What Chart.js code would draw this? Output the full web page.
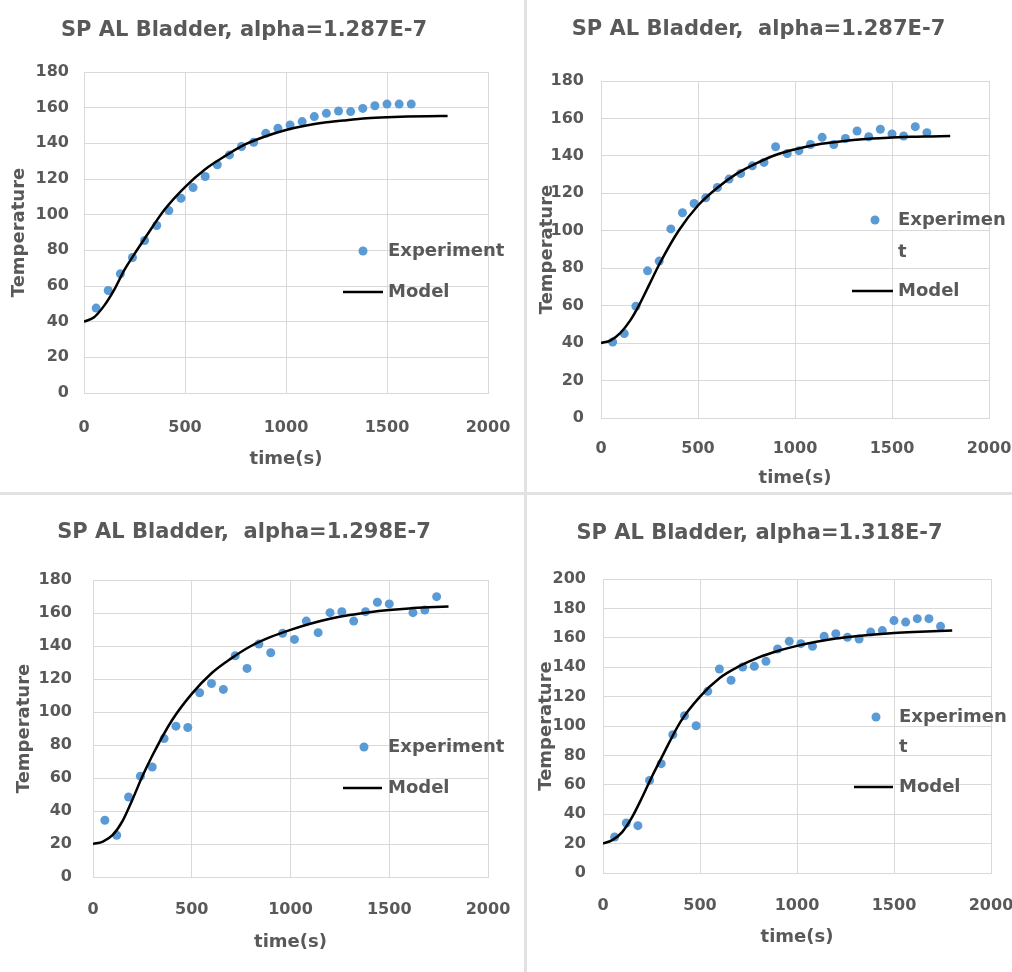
<!DOCTYPE html>
<html>
<head>
<meta charset="utf-8">
<script src="https://cdn.jsdelivr.net/npm/chart.js@4.4.1/dist/chart.umd.min.js"></script>
<style>
  html, body { margin: 0; padding: 0; background: #fff; overflow: hidden; }
  #page { position: relative; width: 1012px; height: 972px; overflow: hidden; background: #fff; }
  #page canvas { position: absolute; }
  .vline { position: absolute; left: 524px; top: 0; width: 3px; height: 972px; background: #e2e2e2; }
  .hline { position: absolute; left: 0; top: 492px; width: 1012px; height: 3px; background: #e2e2e2; }
</style>
</head>
<body>
<div id="page">
  <canvas id="c1" width="524" height="492" style="left:0;top:0"></canvas>
  <canvas id="c2" width="492" height="492" style="left:528px;top:0"></canvas>
  <canvas id="c3" width="524" height="476" style="left:0;top:496px"></canvas>
  <canvas id="c4" width="498" height="476" style="left:528px;top:496px"></canvas>
  <div class="vline"></div>
  <div class="hline"></div>
</div>
<script>
// chart titles
const titles = [
  'SP AL Bladder, alpha=1.287E-7',
  'SP AL Bladder,  alpha=1.287E-7',
  'SP AL Bladder,  alpha=1.298E-7',
  'SP AL Bladder, alpha=1.318E-7'
];
const yMax = [180, 180, 180, 200];

// experiment points, time (s) and temperature
const expTime1 = [60, 120, 180, 240, 300, 360, 420, 480, 540, 600, 660, 720, 780, 840, 900, 960, 1020, 1080, 1140, 1200, 1260, 1320, 1380, 1440, 1500, 1560, 1620];
const expTemp1 = [47.6, 57.5, 66.8, 76, 85.5, 93.9, 102.3, 109.2, 115.2, 121.4, 128, 133.5, 138.2, 140.6, 145.6, 148.4, 150.3, 152.2, 155, 156.8, 158.1, 157.8, 159.6, 161.1, 162, 162, 162];

const expTime2 = [60, 120, 180, 240, 300, 360, 420, 480, 540, 600, 660, 720, 780, 840, 900, 960, 1020, 1080, 1140, 1200, 1260, 1320, 1380, 1440, 1500, 1560, 1620, 1680];
const expTemp2 = [40.6, 45.1, 59.7, 78.6, 83.8, 101, 109.6, 114.6, 117.6, 123.1, 127.6, 130.6, 134.7, 136.5, 144.9, 141.3, 142.8, 146.1, 149.9, 146.1, 149.3, 153.3, 150.2, 154.2, 151.7, 150.6, 155.6, 152.4];

const expTime3 = [60, 120, 180, 240, 300, 360, 420, 480, 540, 600, 660, 720, 780, 840, 900, 960, 1020, 1080, 1140, 1200, 1260, 1320, 1380, 1440, 1500, 1620, 1680, 1740];
const expTemp3 = [34.4, 25.3, 48.5, 61.1, 66.7, 83.9, 91.4, 90.6, 111.7, 117.3, 113.7, 134.1, 126.4, 141.2, 135.9, 147.7, 144, 155.1, 148.1, 160.2, 160.8, 155.1, 160.8, 166.5, 165.5, 160.2, 161.8, 169.9];

const expTime4 = [60, 120, 180, 240, 300, 360, 420, 480, 540, 600, 660, 720, 780, 840, 900, 960, 1020, 1080, 1140, 1200, 1260, 1320, 1380, 1440, 1500, 1560, 1620, 1680, 1740];
const expTemp4 = [24.5, 34, 32.2, 63, 74.4, 94.1, 107, 100.2, 123.6, 138.8, 131.1, 140.1, 140.6, 144, 152.4, 157.6, 156, 154.2, 161, 162.8, 160.3, 159.2, 163.9, 164.9, 171.7, 170.7, 173, 173, 167.8];

// model curves
const modelTime = [0, 50, 100, 150, 200, 250, 300, 400, 500, 600, 700, 800, 900, 1000, 1100, 1200, 1300, 1400, 1500, 1600, 1700, 1800];
const modelTemp1 = [40, 42.5, 49, 58, 69, 78, 86.5, 103, 115.5, 125.5, 133, 139.5, 144, 147.5, 150, 151.8, 153, 154, 154.6, 155, 155.2, 155.3];
const modelTemp2 = [40, 41.5, 45.5, 52, 61, 71.5, 82, 100, 113.5, 123, 130.5, 136, 140.5, 143.5, 145.8, 147.3, 148.5, 149.3, 149.8, 150.2, 150.4, 150.6];
const modelTemp3 = [20, 21.5, 25.5, 34, 47, 61, 73.5, 95, 111, 123.5, 132.5, 140, 145.5, 149.8, 153.5, 156.5, 158.8, 160.5, 161.8, 162.8, 163.5, 164];
const modelTemp4 = [20, 22.5, 28, 38, 51, 65, 78, 103, 120, 132.5, 140.5, 146.5, 151, 154.5, 157.3, 159.5, 161, 162.3, 163.3, 164, 164.5, 165];

const expTimes = [expTime1, expTime2, expTime3, expTime4];
const expTemps = [expTemp1, expTemp2, expTemp3, expTemp4];
const modelTemps = [modelTemp1, modelTemp2, modelTemp3, modelTemp4];

// per panel layout (pixels inside each canvas)
const layouts = [
  { yW: 84, xH: 99, right: 36, tTop: 18.4, tBot: 28.4, yTitle: 8.7, yTick: 15, xTick: 25.4, xTitle: 22.2,
    legend: { markerX: 363, lineX: [343, 383], textX: 388, rows: [251, 292], maxWidth: 300, lineHeight: 31 } },
  { yW: 73, xH: 74, right: 31, tTop: 17.4, tBot: 38.4, yTitle: 8.2, yTick: 17, xTick: 21.4, xTitle: 3.2,
    legend: { markerX: 347, lineX: [324, 365], textX: 370, rows: [220, 291], maxWidth: 110, lineHeight: 32 } },
  { yW: 93, xH: 95, right: 36, tTop: 24.4, tBot: 34.4, yTitle: 13.2, yTick: 21, xTick: 23.4, xTitle: 19.2,
    legend: { markerX: 364, lineX: [343, 382], textX: 388, rows: [251, 292], maxWidth: 300, lineHeight: 31 } },
  { yW: 75, xH: 99, right: 35, tTop: 25.4, tBot: 32.4, yTitle: 7.2, yTick: 17, xTick: 23.4, xTitle: 24.2,
    legend: { markerX: 348, lineX: [326, 365], textX: 371, rows: [221, 291], maxWidth: 110, lineHeight: 30 } }
];

const gray = '#595959';
const gridColor = '#d9d9d9';
const blue = '#5b9bd5';
Chart.defaults.font.family = '"DejaVu Sans", sans-serif';

// legend drawn inside the plot like the Excel one
const sideLegend = {
  id: 'sideLegend',
  afterDraw(chart, args, opts) {
    const ctx = chart.ctx;
    ctx.save();
    ctx.font = 'bold 18px "DejaVu Sans"';
    ctx.fillStyle = gray;
    ctx.textBaseline = 'middle';
    ctx.textAlign = 'left';
    chart.data.datasets.forEach((ds, i) => {
      const y = opts.rows[i];
      if (ds.showLine) {
        ctx.strokeStyle = ds.borderColor;
        ctx.lineWidth = ds.borderWidth;
        ctx.beginPath();
        ctx.moveTo(opts.lineX[0], y);
        ctx.lineTo(opts.lineX[1], y);
        ctx.stroke();
      } else {
        ctx.fillStyle = ds.pointBackgroundColor;
        ctx.beginPath();
        ctx.arc(opts.markerX, y, ds.pointRadius, 0, Math.PI * 2);
        ctx.fill();
        ctx.fillStyle = gray;
      }
      // wrap by characters when too wide
      const lines = [];
      let cur = '';
      for (const ch of ds.label) {
        if (cur && ctx.measureText(cur + ch).width > opts.maxWidth) { lines.push(cur); cur = ch; }
        else cur += ch;
      }
      lines.push(cur);
      lines.forEach((t, k) => ctx.fillText(t, opts.textX, y + k * opts.lineHeight));
    });
    ctx.restore();
  }
};

function makeChart(id, i) {
  const L = layouts[i];
  const expPts = expTimes[i].map((t, k) => ({ x: t, y: expTemps[i][k] }));
  const modelPts = modelTime.map((t, k) => ({ x: t, y: modelTemps[i][k] }));
  new Chart(document.getElementById(id), {
    type: 'scatter',
    data: {
      datasets: [{
        label: 'Experiment',
        data: expPts,
        showLine: false,
        pointRadius: 4.5,
        pointBackgroundColor: blue,
        pointBorderWidth: 0,
        order: 1
      }, {
        label: 'Model',
        data: modelPts,
        showLine: true,
        borderColor: '#000',
        borderWidth: 2.5,
        pointRadius: 0,
        cubicInterpolationMode: 'monotone',
        order: 0
      }]
    },
    options: {
      responsive: false,
      animation: false,
      devicePixelRatio: 1,
      layout: { padding: { left: 0, top: 0, right: L.right, bottom: 0 } },
      plugins: {
        legend: { display: false },
        tooltip: { enabled: false },
        title: {
          display: true,
          text: titles[i],
          color: gray,
          font: { size: 21, weight: 'bold' },
          padding: { top: L.tTop, bottom: L.tBot }
        },
        sideLegend: L.legend
      },
      scales: {
        x: {
          type: 'linear',
          min: 0, max: 2000,
          ticks: { stepSize: 500, padding: L.xTick, color: gray, font: { size: 16, weight: 'bold' },
                   format: { useGrouping: false } },
          grid: { color: gridColor, drawTicks: false },
          border: { color: gridColor },
          title: { display: true, text: 'time(s)', color: gray, font: { size: 18, weight: 'bold' }, padding: { top: 0, bottom: L.xTitle } },
          afterFit(s) { s.height = L.xH; s.paddingLeft = 0; s.paddingRight = 0; }
        },
        y: {
          min: 0, max: yMax[i],
          ticks: { stepSize: 20, padding: L.yTick, color: gray, font: { size: 16, weight: 'bold' } },
          grid: { color: gridColor, drawTicks: false },
          border: { color: gridColor },
          title: { display: true, text: 'Temperature', color: gray, font: { size: 18, weight: 'bold' }, padding: { top: L.yTitle, bottom: 0 } },
          afterFit(s) { s.width = L.yW; }
        }
      }
    },
    plugins: [sideLegend]
  });
}

makeChart('c1', 0);
makeChart('c2', 1);
makeChart('c3', 2);
makeChart('c4', 3);
</script>
</body>
</html>
